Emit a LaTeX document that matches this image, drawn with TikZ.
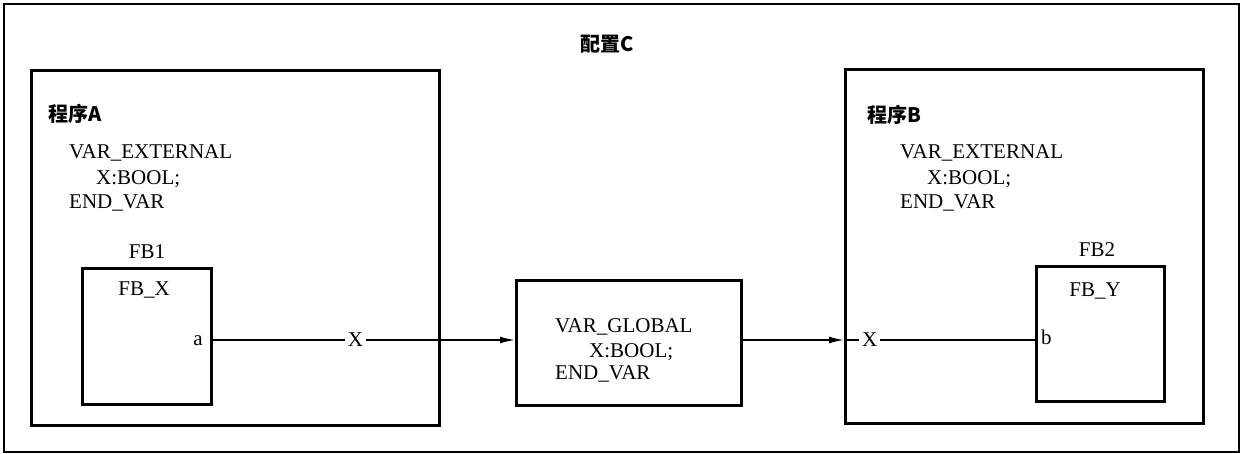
\documentclass[tikz,border=0pt]{standalone}
\usepackage{fontspec}
\setmainfont{Liberation Serif}
\newfontfamily\cjk{Noto Sans CJK SC}
\usetikzlibrary{arrows.meta}
\tikzset{
  box/.style={draw, line width=2.6pt, inner sep=0pt, anchor=north west},
  txt/.style={inner sep=0pt, anchor=base west, font=\fontsize{21}{25}\selectfont},
  ctxt/.style={inner sep=0pt, anchor=base, font=\fontsize{21}{25}\selectfont},
  title/.style={inner sep=0pt, anchor=base west, font=\cjk\bfseries\fontsize{20}{24}\selectfont},
  wire/.style={line width=1.7pt},
  arr/.style={wire, -{Latex[length=15pt,width=7pt]}},
  lbl/.style={fill=white, inner sep=3pt, font=\fontsize{21}{25}\selectfont}
}
\begin{document}
\begin{tikzpicture}[x=1pt,y=-1pt]
\useasboundingbox (0,0) rectangle (1243,454);
% outer
\node[box, line width=1.8pt, minimum width=1235pt, minimum height=448pt] (outer) at (3,3) {};
\node[title, anchor=base] (tC) at (607,52) {配置C};
% program A
\node[box, minimum width=408pt, minimum height=355pt] (progA) at (30,69) {};
\node[title] (tA) at (48,122) {程序A};
\node[txt] (eA1) at (69,159) {VAR\_EXTERNAL};
\node[txt] (eA2) at (96,185) {X:BOOL;};
\node[txt] (eA3) at (69,209) {END\_VAR};
\node[box, minimum width=129pt, minimum height=136pt] (fb1) at (81,267) {};
\node[ctxt] (fb1n) at (147,259) {FB1};
\node[ctxt] (fbx) at (144,296) {FB\_X};
\node[txt, anchor=base east] (pa) at (203,346) {a};
% global
\node[box, minimum width=225pt, minimum height=125pt] (glob) at (515,279) {};
\node[txt] (g1) at (555,333) {VAR\_GLOBAL};
\node[txt] (g2) at (589,358) {X:BOOL;};
\node[txt] (g3) at (555,380) {END\_VAR};
% program B
\node[box, minimum width=358pt, minimum height=354pt] (progB) at (844,68) {};
\node[title] (tB) at (867,123) {程序B};
\node[txt] (eB1) at (900,159) {VAR\_EXTERNAL};
\node[txt] (eB2) at (927,185) {X:BOOL;};
\node[txt] (eB3) at (900,209) {END\_VAR};
\node[box, minimum width=128pt, minimum height=135pt] (fb2) at (1035,265) {};
\node[ctxt] (fb2n) at (1097,257) {FB2};
\node[ctxt] (fby) at (1095,297) {FB\_Y};
\node[txt] (pb) at (1041,345) {b};
% wires
\coordinate (W) at (0,340);
\draw[arr] (fb1.east |- W) -- node[lbl, pos=0.472] (xa) {X} (glob.west |- W);
\draw[arr] (glob.east |- W) -- (progB.west |- W);
\draw[wire] (progB.west |- W) -- node[lbl, pos=0.135] (xb) {X} (fb2.west |- W);
\end{tikzpicture}
\end{document}
